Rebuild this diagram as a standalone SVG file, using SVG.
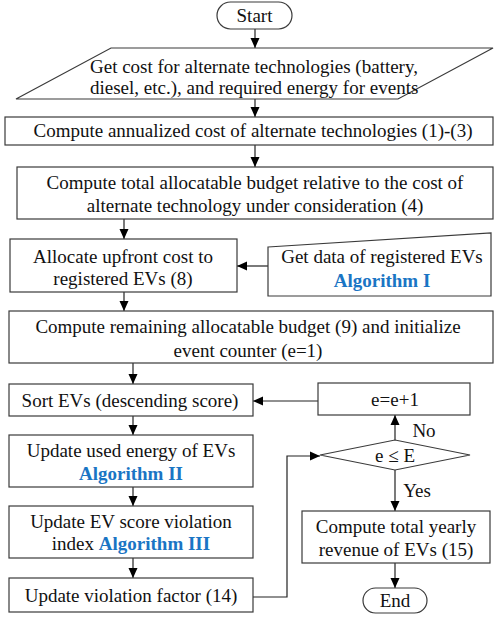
<svg xmlns="http://www.w3.org/2000/svg" width="494" height="618" viewBox="0 0 494 618" font-family="'Liberation Serif', 'Times New Roman', 'DejaVu Serif', serif">
<defs>
<marker id="ah" markerUnits="userSpaceOnUse" markerWidth="10" markerHeight="10" viewBox="0 0 10 10" refX="10" refY="5" orient="auto">
<path d="M0,0.5 L10,5 L0,9.5 Z" fill="#000"/>
</marker>
<style>
.s{fill:#fff;stroke:#3a3a3a;stroke-width:1.2}
.t{font-family:'Liberation Serif','Times New Roman','DejaVu Serif',serif;font-size:19px;fill:#111;text-anchor:middle}
.b{font-weight:bold;fill:#1a75c4}
.c{fill:none;stroke:#222;stroke-width:1.2;marker-end:url(#ah)}
</style>
</defs>
<rect width="494" height="618" fill="#fff"/>
<g id="connectors">
<line class="c" x1="255" y1="29" x2="255" y2="48"/>
<line class="c" x1="255" y1="99" x2="255" y2="117"/>
<line class="c" x1="255" y1="145" x2="255" y2="167"/>
<line class="c" x1="124" y1="219" x2="124" y2="239"/>
<line class="c" x1="268" y1="266" x2="237" y2="266"/>
<line class="c" x1="124" y1="292" x2="124" y2="311"/>
<line class="c" x1="133" y1="363" x2="133" y2="384"/>
<line class="c" x1="318" y1="401" x2="253" y2="401"/>
<line class="c" x1="133" y1="416" x2="133" y2="435"/>
<line class="c" x1="133" y1="487" x2="133" y2="506"/>
<line class="c" x1="133" y1="558" x2="133" y2="578"/>
<polyline class="c" points="253,597 287,597 287,456 320,456"/>
<line class="c" x1="395" y1="440" x2="395" y2="415"/>
<line class="c" x1="395" y1="470" x2="395" y2="511"/>
<line class="c" x1="395" y1="563" x2="395" y2="588"/>
<text class="t" x="424" y="437">No</text>
<text class="t" x="417" y="497">Yes</text>
</g>
<g id="start">
<rect class="s" x="217" y="2" width="75" height="27" rx="13.5"/>
<text class="t" x="254.5" y="22">Start</text>
</g>
<g id="input-costs">
<polygon class="s" points="111,48 493,48 398,99 16,99"/>
<text class="t" x="90" y="73" style="text-anchor:start">Get cost for alternate technologies (battery,</text>
<text class="t" x="90" y="94" style="text-anchor:start">diesel, etc.), and required energy for events</text>
</g>
<g id="annualized">
<rect class="s" x="5" y="117" width="488" height="28"/>
<text class="t" x="253" y="137">Compute annualized cost of alternate technologies (1)-(3)</text>
</g>
<g id="budget">
<rect class="s" x="17" y="167" width="476" height="52"/>
<text class="t" x="255" y="189">Compute total allocatable budget relative to the cost of</text>
<text class="t" x="255" y="212">alternate technology under consideration (4)</text>
</g>
<g id="allocate">
<rect class="s" x="10" y="239" width="227" height="53"/>
<text class="t" x="123" y="263">Allocate upfront cost to</text>
<text class="t" x="123" y="285">registered EVs (8)</text>
</g>
<g id="get-ev-data">
<polygon class="s" points="268,247 491,233 491,296 268,296"/>
<text class="t" x="382" y="263">Get data of registered EVs</text>
<text class="t b" x="382" y="287">Algorithm I</text>
</g>
<g id="remaining">
<rect class="s" x="9" y="311" width="484" height="52"/>
<text class="t" x="248" y="333">Compute remaining allocatable budget (9) and initialize</text>
<text class="t" x="248" y="357">event counter (e=1)</text>
</g>
<g id="sort">
<rect class="s" x="9" y="384" width="244" height="32"/>
<text class="t" x="130" y="407">Sort EVs (descending score)</text>
</g>
<g id="increment">
<rect class="s" x="318" y="383" width="152" height="32"/>
<text class="t" x="395" y="406">e=e+1</text>
</g>
<g id="used-energy">
<rect class="s" x="9" y="435" width="244" height="52"/>
<text class="t" x="131" y="457">Update used energy of EVs</text>
<text class="t b" x="131" y="480">Algorithm II</text>
</g>
<g id="decision">
<polygon class="s" points="320,455 395,440 470,455 395,470"/>
<text class="t" x="395" y="462">e ≤ E</text>
</g>
<g id="score-violation">
<rect class="s" x="9" y="506" width="244" height="52"/>
<text class="t" x="131" y="528">Update EV score violation</text>
<text class="t" x="131" y="550">index <tspan class="b">Algorithm III</tspan></text>
</g>
<g id="violation-factor">
<rect class="s" x="9" y="578" width="244" height="34"/>
<text class="t" x="131" y="602">Update violation factor (14)</text>
</g>
<g id="revenue">
<rect class="s" x="302" y="511" width="188" height="52"/>
<text class="t" x="396" y="533">Compute total yearly</text>
<text class="t" x="396" y="556">revenue of EVs (15)</text>
</g>
<g id="end">
<rect class="s" x="363" y="588" width="64" height="25" rx="12.5"/>
<text class="t" x="395" y="607">End</text>
</g>
</svg>
